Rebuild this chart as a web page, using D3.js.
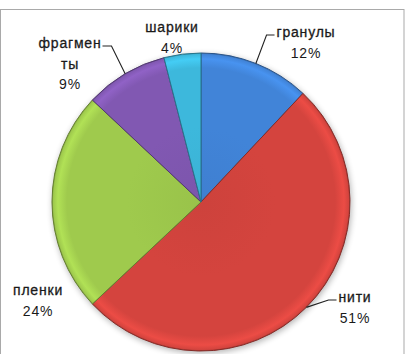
<!DOCTYPE html>
<html>
<head>
<meta charset="utf-8">
<script src="https://cdn.jsdelivr.net/npm/d3@7"></script>
<style>
  html, body { margin: 0; padding: 0; background: #fff; }
  svg { display: block; }
  text { font-family: "Liberation Sans", Arial, sans-serif; }
</style>
</head>
<body>
<svg id="chart" width="406" height="354"></svg>
<script>
// Category names, as wrapped in the labels
const categories = ["гранулы", "нити", "пленки", "фрагменты", "шарики"];
const labelLines = [["гранулы"], ["нити"], ["пленки"], ["фрагмен", "ты"], ["шарики"]];
// Share of each category, percent
const shares = [12, 51, 24, 9, 4];
// Slice colours
const colors = ["#4184d8", "#d4443e", "#9fca4d", "#8158b2", "#3db8dc"];
// Which labels are tied to their slice with a leader line
const hasLeader = [true, true, false, true, false];

const W = 406, H = 354;
const cx = 201, cy = 202, R = 149;
const lineH = 20.5;

// Label block placement (first-line baseline, centre x) relative to the pie centre
const labelOffset = {
  "гранулы":   [105, -165],
  "нити":      [154, 100],
  "пленки":    [-163, 93],
  "фрагменты": [-131, -154],
  "шарики":    [-29, -170]
};

const svg = d3.select("#chart");
const defs = svg.append("defs");

// chart area frame
svg.append("rect")
  .attr("x", 0.5).attr("y", 9.5)
  .attr("width", 403.5).attr("height", 400)
  .attr("fill", "#fff")
  .attr("stroke", "#a9a9a9").attr("stroke-width", 1);

// soft shadow under the pie
const sh = defs.append("filter").attr("id", "shadow")
  .attr("color-interpolation-filters", "sRGB")
  .attr("x", "-20%").attr("y", "-20%").attr("width", "140%").attr("height", "140%");
sh.append("feGaussianBlur").attr("in", "SourceAlpha").attr("stdDeviation", 3).attr("result", "b");
sh.append("feOffset").attr("in", "b").attr("dx", 1).attr("dy", 2).attr("result", "o");
sh.append("feComponentTransfer").attr("in", "o").attr("result", "s")
  .append("feFuncA").attr("type", "linear").attr("slope", 0.3);
const m = sh.append("feMerge");
m.append("feMergeNode").attr("in", "s");
m.append("feMergeNode").attr("in", "SourceGraphic");

// bevelled fill for each slice: flat body, light band near the rim, dark edge
// (gradient space is the pie group's own, centred at 0,0)
colors.forEach((c, i) => {
  const base = d3.color(c);
  const g = defs.append("radialGradient")
    .attr("id", "grad" + i)
    .attr("gradientUnits", "userSpaceOnUse")
    .attr("cx", 0).attr("cy", 0).attr("r", R);
  g.append("stop").attr("offset", "0").attr("stop-color", base.darker(0.1));
  g.append("stop").attr("offset", "0.5").attr("stop-color", base);
  g.append("stop").attr("offset", "0.9").attr("stop-color", base);
  g.append("stop").attr("offset", "0.96").attr("stop-color", base.brighter(0.3));
  g.append("stop").attr("offset", "0.99").attr("stop-color", base);
  g.append("stop").attr("offset", "1").attr("stop-color", base.darker(0.7));
});

const pie = d3.pie().sort(null).value(d => d.value);
const arc = d3.arc().innerRadius(0).outerRadius(R);
const data = categories.map((c, i) => ({ name: c, value: shares[i], i }));
const arcs = pie(data);

const gPie = svg.append("g")
  .attr("transform", `translate(${cx},${cy})`)
  .attr("filter", "url(#shadow)");

gPie.selectAll("path.slice")
  .data(arcs)
  .join("path")
  .attr("class", "slice")
  .attr("d", arc)
  .attr("fill", d => `url(#grad${d.data.i})`)
  .attr("stroke", d => d3.color(colors[d.data.i]).darker(1.3))
  .attr("stroke-width", 1)
  .attr("stroke-linejoin", "round");

// labels: category name lines slightly heavier than the percentage line
const gLab = svg.append("g").attr("transform", `translate(${cx},${cy})`);
arcs.forEach(d => {
  const i = d.data.i;
  const [ox, oy] = labelOffset[d.data.name];
  const lines = labelLines[i].concat([shares[i] + "%"]);
  const t = gLab.append("text")
    .attr("text-anchor", "middle")
    .attr("font-size", 14)
    .attr("letter-spacing", 0.8)
    .attr("fill", "#1a1a1a");
  lines.forEach((ln, k) => {
    const isPct = k === lines.length - 1;
    t.append("tspan")
      .attr("x", ox).attr("y", oy + k * lineH)
      .attr("stroke", isPct ? "none" : "#1a1a1a")
      .attr("stroke-width", 0.3)
      .text(ln);
  });

  if (hasLeader[i]) {
    const mid = (d.startAngle + d.endAngle) / 2;
    const px = Math.sin(mid) * R, py = -Math.cos(mid) * R;
    const firstW = t.select("tspan").node().getComputedTextLength();
    const ly = oy - 2;
    let pts;
    if (px >= 0) {
      const left = ox - firstW / 2;
      pts = [[px, py], [left - 10, ly], [left - 2, ly]];
    } else {
      const right = ox + firstW / 2;
      pts = [[px, py], [right + 10, ly], [right + 1, ly]];
    }
    gLab.append("path")
      .attr("d", d3.line()(pts))
      .attr("fill", "none")
      .attr("stroke", "#222")
      .attr("stroke-width", 1.1);
  }
});
</script>
</body>
</html>
